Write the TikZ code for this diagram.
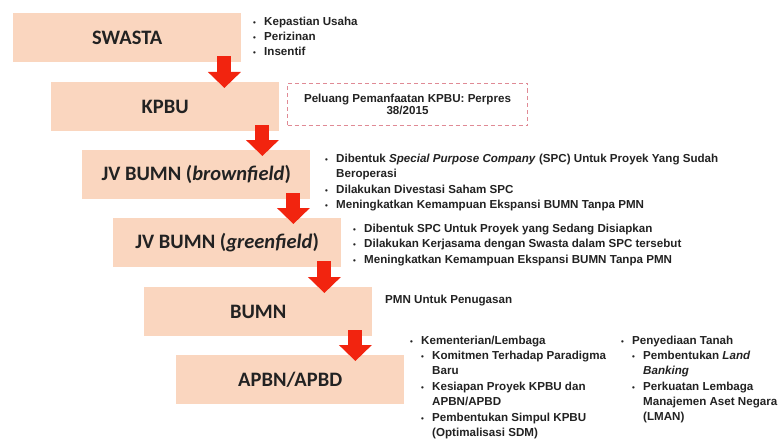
\documentclass[tikz,border=0pt]{standalone}
\usepackage{fontspec}
\setmainfont{Liberation Sans}
\newfontfamily\stagefont{Carlito}
\usetikzlibrary{positioning, shapes, arrows.meta, calc}

\definecolor{peach}{HTML}{FAD6BF}
\definecolor{arrowred}{HTML}{F2240F}
\definecolor{dashpink}{HTML}{E08A95}
\definecolor{ink}{HTML}{222222}

\newcommand{\bl}{\makebox[11pt][l]{{\fontsize{8}{8}\selectfont\textbullet}}}
\newcommand{\ind}{\hspace{11pt}}

\begin{document}
\begin{tikzpicture}[x=1pt, y=-1pt,
    stage/.style={fill=peach, text=ink, minimum width=228pt, minimum height=49pt, inner sep=0pt,
      anchor=north west, font=\stagefont\bfseries\fontsize{20.5}{24}\selectfont},
    bigarrow/.style={draw=arrowred, line width=14pt, -{Triangle[width=32pt, length=16pt]}},
    notes/.style={anchor=base west, inner sep=0pt, text=ink, font=\bfseries\fontsize{11.6}{15}\selectfont}]

  \useasboundingbox (0,0) rectangle (783,441);

  % Nodes
  \node[stage] (swasta) at (13,13) {SWASTA};
  \node[stage] (kpbu) at (51,82) {KPBU};
  \node[stage] (brown) at (82,150) {JV BUMN (\textit{brownfield})};
  \node[stage] (green) at (113,218) {JV BUMN (\textit{greenfield})};
  \node[stage] (bumn) at (144,287) {BUMN};
  \node[stage] (apbn) at (176,355) {APBN/APBD};

  % Arrows
  \foreach \a/\b in {swasta/kpbu, kpbu/brown, brown/green, green/bumn, bumn/apbn}{
    \coordinate (\a-out) at ([xshift=-17pt, yshift=6pt]\a.south east);
    \draw[bigarrow] (\a-out) -- ($(\a-out |- \b.north)+(0,6)$);
  }

  % Notes
  \node[notes] (swastanote) at (253,26) {\begin{tabular}[t]{@{}l@{}}
    \bl Kepastian Usaha\\
    \bl Perizinan\\
    \bl Insentif
  \end{tabular}};

  \node[draw=dashpink, dashed, dash pattern=on 4pt off 3pt, line width=1pt,
    minimum width=240pt, minimum height=42pt, anchor=north west, align=center, text=ink,
    font=\bfseries\fontsize{11.6}{12.5}\selectfont] (perpres) at (287,83)
    {Peluang Pemanfaatan KPBU: Perpres\\38/2015};

  \node[notes] (brownnote) at (325,162) {\begin{tabular}[t]{@{}l@{}}
    \bl Dibentuk \textit{Special Purpose Company} (SPC) Untuk Proyek Yang Sudah\\
    \ind Beroperasi\\[1.5pt]
    \bl Dilakukan Divestasi Saham SPC\\
    \bl Meningkatkan Kemampuan Ekspansi BUMN Tanpa PMN
  \end{tabular}};

  \node[notes] (greennote) at (353,232) {\begin{tabular}[t]{@{}l@{}}
    \bl Dibentuk SPC Untuk Proyek yang Sedang Disiapkan\\[0.5pt]
    \bl Dilakukan Kerjasama dengan Swasta dalam SPC tersebut\\[0.5pt]
    \bl Meningkatkan Kemampuan Ekspansi BUMN Tanpa PMN
  \end{tabular}};

  \node[notes] (bumnnote) at (385,303) {PMN Untuk Penugasan};

  \node[notes] (apbnleft) at (410,344) {\begin{tabular}[t]{@{}l@{}}
    \bl Kementerian/Lembaga\\[0.5pt]
    \ind\bl Komitmen Terhadap Paradigma\\
    \ind\ind Baru\\[1pt]
    \ind\bl Kesiapan Proyek KPBU dan\\
    \ind\ind APBN/APBD\\[1pt]
    \ind\bl Pembentukan Simpul KPBU\\
    \ind\ind (Optimalisasi SDM)
  \end{tabular}};

  \node[notes] (apbnright) at (621,344) {\begin{tabular}[t]{@{}l@{}}
    \bl Penyediaan Tanah\\[0.5pt]
    \ind\bl Pembentukan \textit{Land}\\
    \ind\ind \textit{Banking}\\[1pt]
    \ind\bl Perkuatan Lembaga\\
    \ind\ind Manajemen Aset Negara\\
    \ind\ind (LMAN)
  \end{tabular}};
\end{tikzpicture}
\end{document}
